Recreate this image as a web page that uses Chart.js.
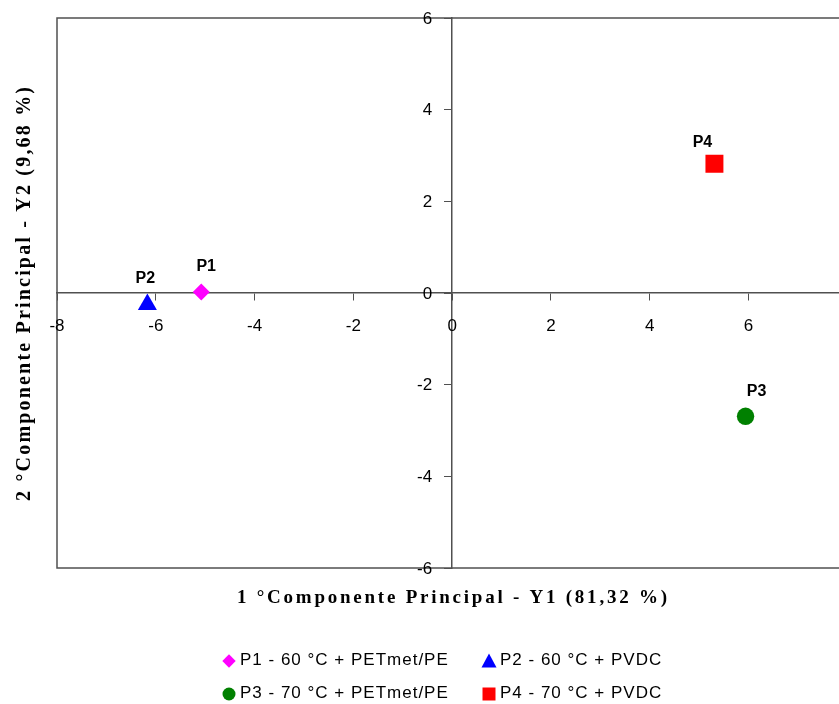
<!DOCTYPE html>
<html>
<head>
<meta charset="utf-8">
<script src="https://cdn.jsdelivr.net/npm/chart.js@4.4.1/dist/chart.umd.min.js"></script>
<style>
  html, body { margin: 0; padding: 0; overflow: hidden; background: #fff; }
  #wrap { width: 860px; height: 704px; }
</style>
</head>
<body>
<div id="wrap"><canvas id="pcaChart" width="860" height="704"></canvas></div>
<script>
// PCA scores (first two components)
const pointNames = ['P1', 'P2', 'P3', 'P4'];
const seriesLabels = ['P1 - 60 °C + PETmet/PE', 'P2 - 60 °C + PVDC', 'P3 - 70 °C + PETmet/PE', 'P4 - 70 °C + PVDC'];
const pc1Scores = [-5.08, -6.17, 5.94, 5.31];
const pc2Scores = [0.02, -0.25, -2.69, 2.82];
const xRange = [-8, 8];
const yRange = [-6, 6];
const tickStep = 2;
const xTitle = '1 °Componente Principal - Y1 (81,32 %)';
const yTitle = '2 °Componente Principal - Y2 (9,68 %)';

// marker look per series
const markerColors = ['#ff00ff', '#0000ff', '#008000', '#ff0000'];
const markerStyles = ['rectRot', 'triangle', 'circle', 'rect'];
const markerRadius = [8.5, 11, 8.7, 12.7];
const nameOffsets = [[5, -25], [-2, -26], [11, -25], [-12, -21]];

const axisColor = '#505050';
const tickFont = '17px Arial, "Liberation Sans", sans-serif';

const datasets = pointNames.map((name, i) => ({
  label: seriesLabels[i],
  data: [{ x: pc1Scores[i], y: pc2Scores[i] }],
  pointStyle: markerStyles[i],
  pointRadius: markerRadius[i],
  pointBackgroundColor: markerColors[i],
  pointBorderColor: markerColors[i],
  pointBorderWidth: 0,
  showLine: false
}));

// letter-spaced text stretched to a given width, centred on x
function spacedText(ctx, text, x, y, width) {
  ctx.letterSpacing = '0px';
  const w0 = ctx.measureText(text).width;
  const sp = (width - w0) / (text.length - 1);
  ctx.letterSpacing = sp + 'px';
  ctx.textAlign = 'left';
  ctx.fillText(text, x - width / 2, y);
  ctx.letterSpacing = '0px';
}

function drawMarker(ctx, style, x, y, r) {
  ctx.beginPath();
  if (style === 'circle') {
    ctx.arc(x, y, r, 0, Math.PI * 2);
  } else if (style === 'rect') {
    ctx.rect(x - r, y - r, 2 * r, 2 * r);
  } else if (style === 'rectRot') {
    ctx.moveTo(x, y - r); ctx.lineTo(x + r, y); ctx.lineTo(x, y + r); ctx.lineTo(x - r, y);
  } else if (style === 'triangle') {
    ctx.moveTo(x, y - r); ctx.lineTo(x + r, y + r * 0.85); ctx.lineTo(x - r, y + r * 0.85);
  }
  ctx.closePath();
  ctx.fill();
}

const framePlugin = {
  id: 'frame',
  beforeDatasetsDraw(chart) {
    const { ctx, chartArea: a } = chart;
    ctx.save();
    ctx.strokeStyle = axisColor;
    ctx.lineWidth = 1.5;
    ctx.strokeRect(a.left, a.top, a.right - a.left, a.bottom - a.top);
    ctx.restore();
  },
  afterDraw(chart) {
    const ctx = chart.ctx;
    const xs = chart.scales.x;
    const ys = chart.scales.y;
    const x0 = xs.getPixelForValue(0);
    const y0 = ys.getPixelForValue(0);
    ctx.save();
    ctx.fillStyle = '#000';

    // tick labels next to the crossing axes
    ctx.font = tickFont;
    ctx.textAlign = 'center';
    ctx.textBaseline = 'middle';
    xs.ticks.forEach(t => ctx.fillText(String(t.value), xs.getPixelForValue(t.value), y0 + 33));
    ctx.textAlign = 'right';
    ys.ticks.forEach(t => ctx.fillText(String(t.value), x0 - 20, ys.getPixelForValue(t.value) + 1));

    // point names
    ctx.font = 'bold 16px Arial, "Liberation Sans", sans-serif';
    ctx.textAlign = 'center';
    chart.data.datasets.forEach((ds, i) => {
      const el = chart.getDatasetMeta(i).data[0];
      ctx.fillText(pointNames[i], el.x + nameOffsets[i][0], el.y + nameOffsets[i][1]);
    });

    // axis titles
    ctx.textBaseline = 'alphabetic';
    ctx.font = 'bold 19px "Times New Roman", "Liberation Serif", serif';
    spacedText(ctx, xTitle, 452, 603, 430);
    ctx.save();
    ctx.font = 'bold 20px "Times New Roman", "Liberation Serif", serif';
    ctx.translate(30, 294);
    ctx.rotate(-Math.PI / 2);
    spacedText(ctx, yTitle, 0, 0, 414);
    ctx.restore();

    // legend, two columns
    const cols = [229, 489];
    const rows = [661, 694];
    ctx.font = '17px Arial, "Liberation Sans", sans-serif';
    ctx.textAlign = 'left';
    ctx.letterSpacing = '1px';
    chart.data.datasets.forEach((ds, i) => {
      const x = cols[i % 2];
      const y = rows[Math.floor(i / 2)];
      ctx.fillStyle = markerColors[i];
      const style = markerStyles[i];
      drawMarker(ctx, style, x, y, style === 'rectRot' ? 6.7 : style === 'triangle' ? 7.5 : 6.5);
      ctx.fillStyle = '#000';
      ctx.fillText(ds.label, x + 11, y + 4);
    });
    ctx.restore();
  }
};

new Chart(document.getElementById('pcaChart'), {
  type: 'scatter',
  data: { datasets },
  options: {
    responsive: false,
    animation: false,
    devicePixelRatio: 1,
    layout: { padding: { left: 57, top: 18, right: 11, bottom: 136 } },
    plugins: { legend: { display: false }, tooltip: { enabled: false } },
    scales: {
      x: {
        type: 'linear',
        min: xRange[0],
        max: xRange[1],
        position: { y: 0 },
        ticks: { stepSize: tickStep, display: false },
        grid: { drawOnChartArea: false, drawTicks: true, tickLength: 7, color: axisColor, lineWidth: 1 },
        border: { display: true, color: axisColor, width: 1.5 }
      },
      y: {
        type: 'linear',
        min: yRange[0],
        max: yRange[1],
        position: { x: 0 },
        ticks: { stepSize: tickStep, display: false },
        grid: { drawOnChartArea: false, drawTicks: true, tickLength: 7, color: axisColor, lineWidth: 1 },
        border: { display: true, color: axisColor, width: 1.5 }
      }
    }
  },
  plugins: [framePlugin]
});
</script>
</body>
</html>
